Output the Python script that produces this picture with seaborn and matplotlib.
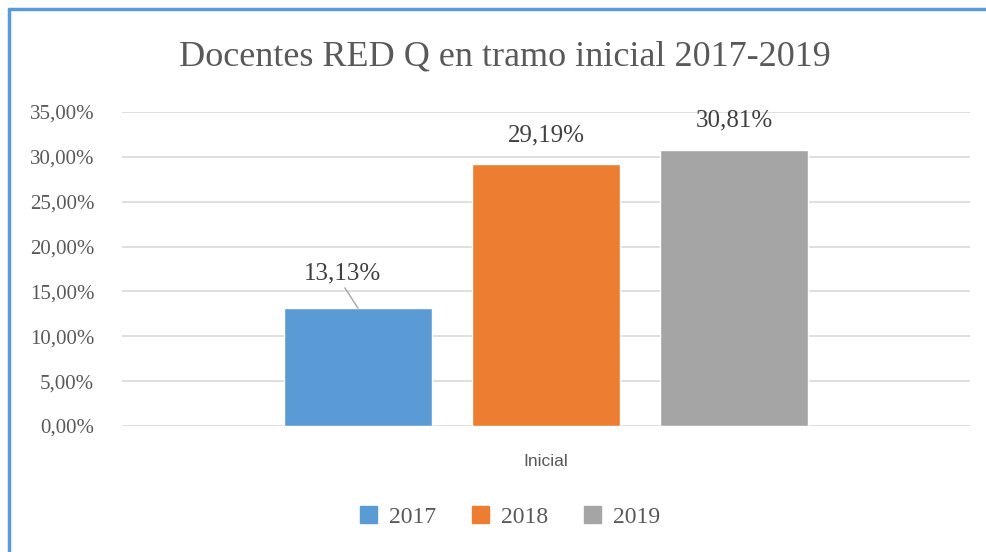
import pandas as pd
import numpy as np
import matplotlib
matplotlib.use("Agg")
import matplotlib.pyplot as plt
import seaborn as sns
from matplotlib.ticker import FuncFormatter, MultipleLocator
from matplotlib.lines import Line2D

# data
categories = ["Inicial"]
years = ["2017", "2018", "2019"]
values = [13.13, 29.19, 30.81]
colors = ["#5B9BD5", "#ED7D31", "#A5A5A5"]

df = pd.DataFrame({"tramo": categories * len(years), "year": years, "pct": values})

sns.set_style("white")
serif = ["Liberation Serif", "DejaVu Serif"]
sans = ["Liberation Sans", "DejaVu Sans"]
txt = "#595959"

fig = plt.figure(figsize=(9.87, 5.52), dpi=100)
ax = fig.add_axes([122 / 987, 1 - 426 / 552, (970 - 122) / 987, (426 - 112) / 552])

sns.barplot(data=df, x="tramo", y="pct", hue="year", palette=colors,
            width=0.665, gap=0.213, ax=ax, legend=False, saturation=1)

ax.set_xlim(-0.5, 0.5)
ax.set_ylim(0, 35)
ax.yaxis.set_major_locator(MultipleLocator(5))
ax.yaxis.set_major_formatter(FuncFormatter(lambda v, p: f"{v:.2f}%".replace(".", ",")))
ax.grid(axis="y", color="#D9D9D9", lw=1.2)
ax.set_axisbelow(True)
for s in ax.spines.values():
    s.set_visible(False)
ax.tick_params(axis="both", length=0)
ax.tick_params(axis="y", pad=20)
ax.tick_params(axis="x", pad=20)
ax.set_xlabel("")
ax.set_ylabel("")
for lab in ax.get_yticklabels():
    lab.set_family(serif)
    lab.set_fontsize(15)
    lab.set_color(txt)
for lab in ax.get_xticklabels():
    lab.set_family(sans)
    lab.set_fontsize(12.5)
    lab.set_color(txt)

# value labels
for bar, v in zip(ax.patches, values):
    cx = bar.get_x() + bar.get_width() / 2
    s = f"{v:.2f}%".replace(".", ",")
    if v < 20:
        ax.annotate(s, xy=(cx, v), xytext=(-11, 17), textcoords="offset points",
                    ha="center", va="bottom", fontsize=18, family=serif, color="#404040",
                    arrowprops=dict(arrowstyle="-", color="#A6A6A6", lw=1,
                                    shrinkA=0, shrinkB=0, relpos=(0.5, 0)))
    else:
        ax.annotate(s, xy=(cx, v), xytext=(0, 13), textcoords="offset points",
                    ha="center", va="bottom", fontsize=18, family=serif, color="#404040")

fig.text(505 / 987, 1 - 57 / 552, "Docentes RED Q en tramo inicial 2017-2019",
         ha="center", va="center", fontsize=26, family=serif, color=txt)

# legend
handles = [plt.Rectangle((0, 0), 1, 1, color=c) for c in colors]
fig.legend(handles, years, loc="center", bbox_to_anchor=(510 / 987, 1 - 517 / 552),
           ncol=3, frameon=False, prop={"family": serif, "size": 17},
           handlelength=0.75, handleheight=0.75, columnspacing=1.5, handletextpad=0.5,
           labelcolor=txt)

# chart border (top and left)
fig.add_artist(Line2D([9 / 987, 1], [1 - 9 / 552, 1 - 9 / 552], color="#5B9BD5", lw=2.5,
                      transform=fig.transFigure))
fig.add_artist(Line2D([9 / 987, 9 / 987], [0, 1 - 9 / 552], color="#5B9BD5", lw=2.5,
                      transform=fig.transFigure))

fig.savefig("out.png", dpi=100)
